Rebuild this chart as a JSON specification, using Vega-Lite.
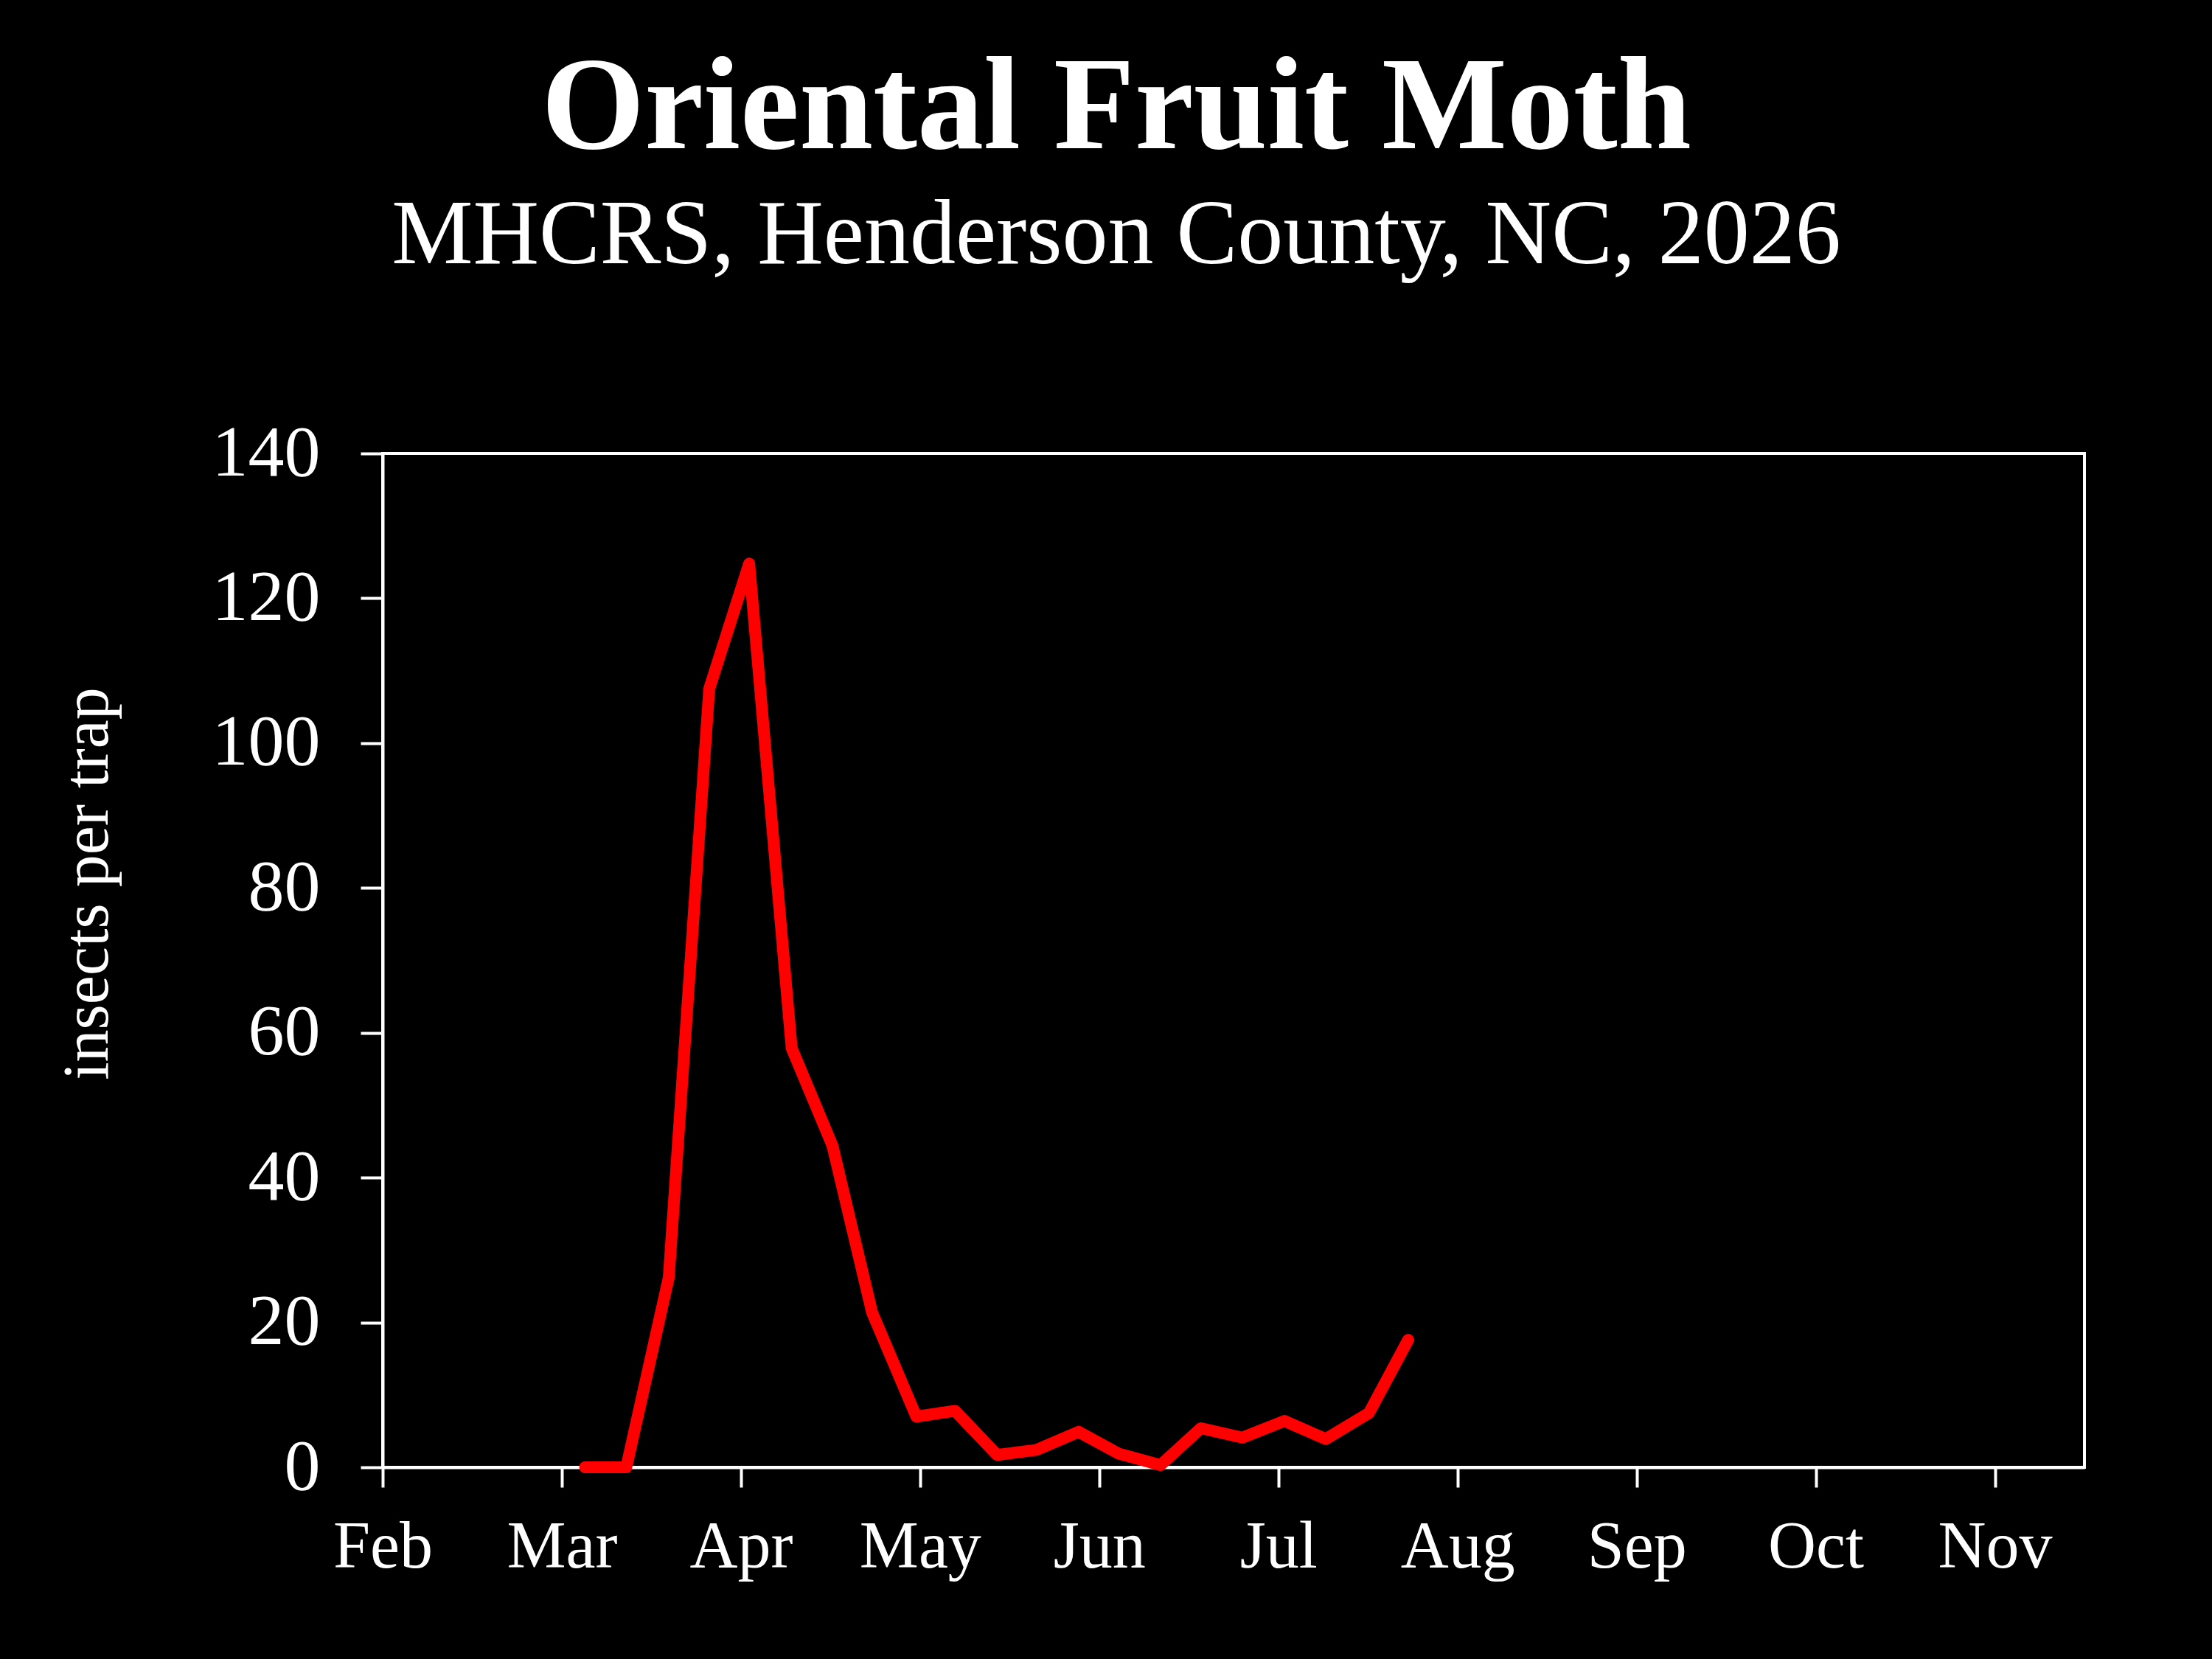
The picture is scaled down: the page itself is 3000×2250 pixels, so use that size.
{
  "$schema": "https://vega.github.io/schema/vega-lite/v6.json",
  "autosize": "none",
  "width": 2308,
  "height": 1375,
  "padding": {"left": 519, "top": 615, "right": 173, "bottom": 260},
  "background": "black",
  "title": {
    "text": "Oriental Fruit Moth",
    "subtitle": "MHCRS, Henderson County, NC, 2026",
    "anchor": "middle",
    "dx": -159,
    "offset": 182,
    "font": "Liberation Serif",
    "fontSize": 180,
    "fontWeight": "bold",
    "color": "white",
    "subtitleFont": "Liberation Serif",
    "subtitleFontSize": 124,
    "subtitleColor": "white",
    "subtitlePadding": 20
  },
  "config": {
    "view": {"stroke": "white", "strokeWidth": 4},
    "axis": {
      "labelFont": "Liberation Serif",
      "titleFont": "Liberation Serif",
      "labelColor": "white",
      "titleColor": "white",
      "domainColor": "white",
      "domainWidth": 4,
      "tickColor": "white",
      "tickWidth": 4,
      "grid": false
    }
  },
  "data": {
    "values": [
      {"month": 1.13, "count": 0},
      {"month": 1.36, "count": 0},
      {"month": 1.597, "count": 26.2},
      {"month": 1.823, "count": 107.5},
      {"month": 2.046, "count": 124.8},
      {"month": 2.283, "count": 57.9},
      {"month": 2.511, "count": 44.4},
      {"month": 2.732, "count": 21.4},
      {"month": 2.979, "count": 7},
      {"month": 3.195, "count": 7.8},
      {"month": 3.43, "count": 1.7},
      {"month": 3.65, "count": 2.4},
      {"month": 3.885, "count": 4.9},
      {"month": 4.107, "count": 1.9},
      {"month": 4.342, "count": 0.3},
      {"month": 4.568, "count": 5.4},
      {"month": 4.799, "count": 4.1},
      {"month": 5.034, "count": 6.4},
      {"month": 5.265, "count": 3.9},
      {"month": 5.506, "count": 7.5},
      {"month": 5.725, "count": 17.6}
    ]
  },
  "mark": {
    "type": "line",
    "color": "#ff0000",
    "strokeWidth": 16,
    "strokeCap": "round",
    "strokeJoin": "round"
  },
  "encoding": {
    "x": {
      "field": "month",
      "type": "quantitative",
      "scale": {"domain": [0, 9.5], "nice": false, "zero": false},
      "axis": {
        "title": null,
        "values": [0, 1, 2, 3, 4, 5, 6, 7, 8, 9],
        "labelExpr": "['Feb','Mar','Apr','May','Jun','Jul','Aug','Sep','Oct','Nov'][datum.value]",
        "labelFontSize": 90,
        "labelPadding": 37,
        "tickSize": 27,
        "labelFlush": false,
        "labelOverlap": false
      }
    },
    "y": {
      "field": "count",
      "type": "quantitative",
      "scale": {"domain": [0, 140], "nice": false},
      "axis": {
        "title": "insects per trap",
        "values": [0, 20, 40, 60, 80, 100, 120, 140],
        "labelFontSize": 98,
        "labelPadding": 55,
        "tickSize": 30,
        "labelFlush": false,
        "labelOverlap": false,
        "titleFontSize": 88,
        "titleFontWeight": "normal",
        "titleX": -400,
        "titleY": 583,
        "titleAlign": "center",
        "titleBaseline": "middle",
        "titleAngle": -90
      }
    }
  }
}
